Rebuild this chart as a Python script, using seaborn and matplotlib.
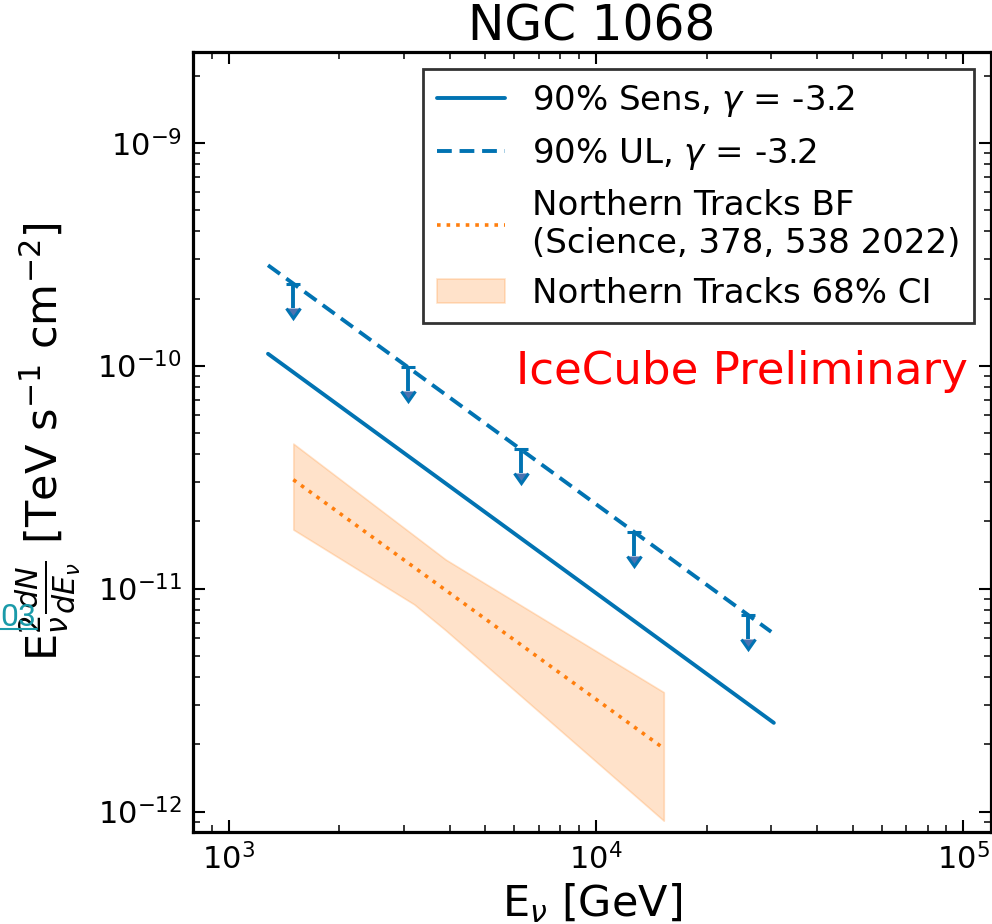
import numpy as np
import pandas as pd
import seaborn as sns
import matplotlib.pyplot as plt
from matplotlib.lines import Line2D

# energies [GeV] and E^2 dN/dE [TeV s^-1 cm^-2]
sens_E = [1.28e3, 3.05e4]
sens_flux = [1.13e-10, 2.50e-12]

ul_E = [1.28e3, 3.0e4]
ul_flux = [2.82e-10, 6.4e-12]

# upper-limit arrows sit on the UL line
arrow_E = [1.50e3, 3.07e3, 6.24e3, 1.27e4, 2.60e4]
arrow_flux = [2.33e-10, 9.87e-11, 4.21e-11, 1.80e-11, 7.6e-12]

bf_E = [1.5e3, 1.53e4]
bf_flux = [3.08e-11, 1.92e-12]

band_E = [1.5e3, 3.2e3, 3.9e3, 1.53e4]
band_lo = [1.84e-11, 8.5e-12, 6.5e-12, 9.1e-13]
band_hi = [4.47e-11, 1.73e-11, 1.35e-11, 3.43e-12]

blue = '#0173b2'
orange = '#ff7f0e'

sns.set_theme(style='ticks')
plt.rcParams['font.family'] = ['DejaVu Sans']
plt.rcParams['mathtext.fontset'] = 'dejavusans'
for k in ['text.color', 'axes.labelcolor', 'xtick.color', 'ytick.color']:
    plt.rcParams[k] = 'black'

fig = plt.figure(figsize=(9.92, 9.24), dpi=100)
ax = fig.add_axes([0.1946, 0.0996, 0.8044, 0.8441])

sens = pd.DataFrame({'E': sens_E, 'flux': sens_flux})
ul = pd.DataFrame({'E': ul_E, 'flux': ul_flux})
bf = pd.DataFrame({'E': bf_E, 'flux': bf_flux})

sns.lineplot(data=sens, x='E', y='flux', ax=ax, color=blue, lw=2.8,
             label=r'90% Sens, $\gamma$ = -3.2')
sns.lineplot(data=ul, x='E', y='flux', ax=ax, color=blue, lw=2.8,
             linestyle=(0, (3.8, 2.0)), label=r'90% UL, $\gamma$ = -3.2')
sns.lineplot(data=bf, x='E', y='flux', ax=ax, color=orange, lw=2.6,
             linestyle=':', label='Northern Tracks BF\n(Science, 378, 538 2022)')
ax.fill_between(band_E, band_lo, band_hi, color=orange, alpha=0.22,
                lw=1.2, label='Northern Tracks 68% CI')

arr_err = np.array(arrow_flux) * 0.22
ax.errorbar(arrow_E, arrow_flux, yerr=arr_err, uplims=True, fmt='none',
            ecolor=blue, elinewidth=2.8, capsize=5, capthick=2.2)

ax.set_xscale('log')
ax.set_yscale('log')
ax.set_xlim(8e2, 1.19e5)
ax.set_ylim(8.1e-13, 2.55e-9)

ax.tick_params(which='both', direction='in', top=True, right=True,
               labelsize=22, color='black')
ax.tick_params(which='major', length=8.5, width=1.5, pad=8)
ax.tick_params(which='minor', length=5, width=1.1)
for s in ax.spines.values():
    s.set_linewidth(2.3)
    s.set_color('black')

ax.set_xlabel(r'E$_\nu$ [GeV]', fontsize=31, labelpad=4)
ax.set_ylabel(r'$\mathrm{E}_\nu^2\frac{dN}{dE_\nu}$ [TeV s$^{-1}$ cm$^{-2}$]',
              fontsize=31, labelpad=10)
ax.set_title('NGC 1068', fontsize=35, pad=8)

ax.text(0.688, 0.59, 'IceCube Preliminary', color='red', fontsize=32.5,
        ha='center', va='center', transform=ax.transAxes)

handles, labels = ax.get_legend_handles_labels()
leg = ax.legend(handles[:4], labels[:4], loc='upper right', fontsize=24.5,
                frameon=True, fancybox=False, framealpha=1,
                edgecolor='#333333', borderaxespad=0.5)
leg.get_frame().set_linewidth(2)

# remnant of the slide this was cut from
fig.text(36 / 992, 1 - 626 / 924, '03', color='#1a9aa9', fontsize=23,
         family='Roboto', ha='right', va='baseline')
fig.add_artist(Line2D([0, 37 / 992], [1 - 629 / 924] * 2, color='#1a9aa9', lw=1.5))

fig.savefig('out.png', dpi=100)
